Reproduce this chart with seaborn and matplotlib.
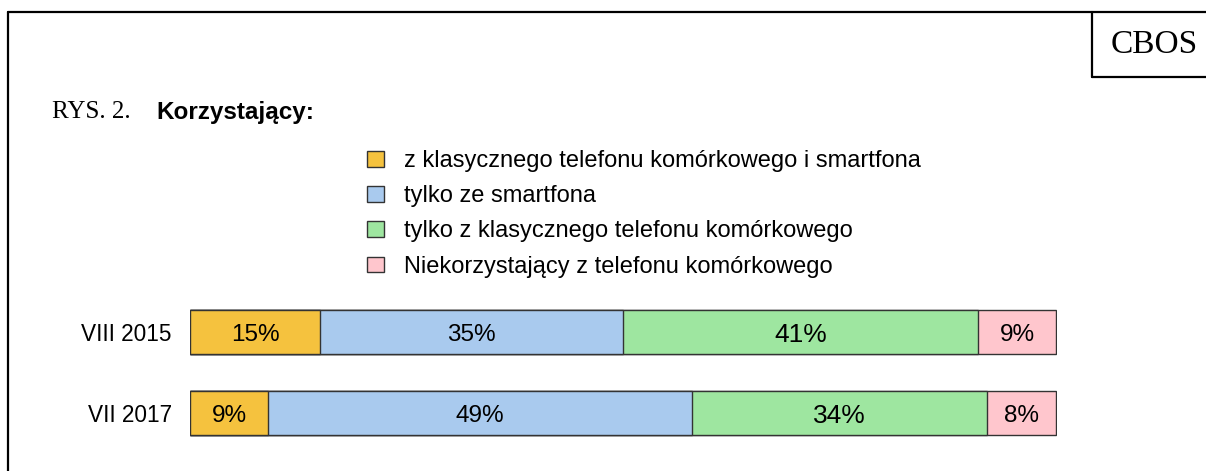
import matplotlib
matplotlib.use("Agg")
import matplotlib.pyplot as plt
from matplotlib.lines import Line2D
from matplotlib.patches import Patch
import numpy as np
import pandas as pd
import seaborn as sns

periods = ['VIII 2015', 'VII 2017']
categories = ['z klasycznego telefonu komórkowego i smartfona',
              'tylko ze smartfona',
              'tylko z klasycznego telefonu komórkowego',
              'Niekorzystający z telefonu komórkowego']
both_phones = [15, 9]
smart_only = [35, 49]
classic_only = [41, 34]
no_phone = [9, 8]
colors = ['#F5C23E', '#A9CAEE', '#9EE6A0', '#FFC6CD']

sns.set_style('white')
plt.rcParams['font.family'] = ['Liberation Sans', 'DejaVu Sans']
plt.rcParams['text.color'] = 'black'
plt.rcParams['ytick.color'] = 'black'

df = pd.DataFrame({'period': periods, 'a': both_phones, 'b': smart_only,
                   'c': classic_only, 'd': no_phone})
series = ['a', 'b', 'c', 'd']
cum = df[series].cumsum(axis=1)

W, H = 1206, 471
fig = plt.figure(figsize=(W / 100, H / 100), dpi=100)
ax = fig.add_axes([190 / W, (H - 453.5) / H, 867 / W, 162 / H])

# stacked bars: draw cumulative totals from the longest down
for s, col in zip(series[::-1], colors[::-1]):
    sns.barplot(x=cum[s], y=df['period'], orient='h', color=col, width=0.543,
                edgecolor='#333333', linewidth=1, saturation=1, ax=ax)

# segment labels
for i in range(len(df)):
    left = 0
    for s in series:
        v = df[s].iloc[i]
        fs = 19 if s == 'c' else 17.5
        ax.text(left + v / 2, i + 0.035, f'{v}%', ha='center', va='center', fontsize=fs,
                color='black')
        left += v

ax.set_xlim(0, 100.1)
ax.set_ylim(1.5, -0.5)
ax.set_xlabel('')
ax.set_ylabel('')
ax.set_xticks([])
ax.tick_params(axis='y', length=0, pad=13, labelsize=16.3)
for sp in ax.spines.values():
    sp.set_visible(False)

handles = [Patch(facecolor=c, edgecolor='#333333', linewidth=1) for c in colors]
fig.legend(handles, categories, loc='upper left', bbox_to_anchor=(367 / W, 1 - 150 / H),
           frameon=False, fontsize=17, borderpad=0, borderaxespad=0,
           handlelength=0.72, handleheight=0.64, handletextpad=0.85, labelspacing=0.56)

# outer frame and CBOS box
lw = 1.6
fig.add_artist(Line2D([8 / W, 8 / W], [0, 1 - 12 / H], color='black', lw=lw))
fig.add_artist(Line2D([8 / W, 1], [1 - 12 / H, 1 - 12 / H], color='black', lw=lw))
fig.add_artist(Line2D([1092 / W, 1092 / W], [1 - 12 / H, 1 - 77 / H], color='black', lw=lw))
fig.add_artist(Line2D([1092 / W, 1], [1 - 77 / H, 1 - 77 / H], color='black', lw=lw))
fig.text(1154 / W, 1 - 45 / H, 'CBOS', ha='center', va='center', fontsize=24,
         family=['Liberation Serif', 'DejaVu Serif'])

fig.text(52 / W, 1 - 112 / H, 'RYS. 2.', ha='left', va='center', fontsize=18,
         family=['Liberation Serif', 'DejaVu Serif'])
fig.text(156 / W, 1 - 112 / H, 'Korzystający:', ha='left', va='center', fontsize=17.5,
         fontweight='bold')

fig.savefig('out.png', dpi=100)
